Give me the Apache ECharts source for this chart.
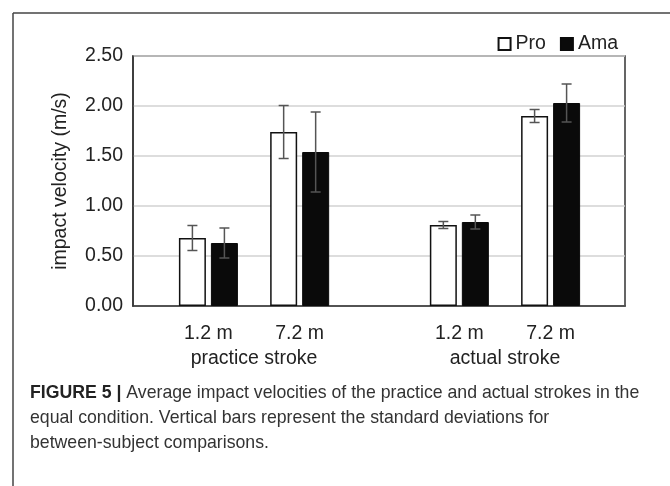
<!DOCTYPE html>
<html>
<head>
<meta charset="utf-8">
<script src="https://cdn.jsdelivr.net/npm/echarts@6/dist/echarts.min.js"></script>
<style>
    html, body { margin: 0; background: #fff; }
    #chart { width: 670px; height: 486px; }
</style>
</head>
<body>
<div id="chart"></div>
<script>
// 数据
const distances = ['1.2 m', '7.2 m', '1.2 m', '7.2 m'];
const strokes = ['practice stroke', 'actual stroke'];
const proMean = [0.68, 1.74, 0.81, 1.90];
const proSd = [0.125, 0.265, 0.035, 0.065];
const amaMean = [0.63, 1.54, 0.84, 2.03];
const amaSd = [0.15, 0.40, 0.07, 0.19];
const yTicks = ['0.00', '0.50', '1.00', '1.50', '2.00', '2.50'];

// 类目轴上的位置 (中间留空)
const slots = [0, 4, 11, 15];
const slotCount = 16;
const FONT = "'Liberation Sans', Arial, sans-serif";
const FS = 19.5;
const barW = 27;
const gapPx = 5;

let cats = new Array(slotCount).fill('');
slots.forEach((s, i) => { cats[s] = distances[i]; });
// 第二行: 击球类型 放在两组中间
strokes.forEach((name, i) => {
    cats[(slots[i * 2] + slots[i * 2 + 1]) / 2] = '\n' + name;
});

function toSlots(values) {
    let arr = new Array(slotCount).fill('-');
    slots.forEach((s, i) => { arr[s] = values[i]; });
    return arr;
}

function errData(mean, sd) {
    return slots.map((s, i) => [s, mean[i], sd[i]]);
}

/**
 * 误差线
 * @param {number} side -1 左边柱, 1 右边柱
 */
function renderErr(side) {
    return function (params, api) {
        const hi = api.coord([api.value(0), api.value(1) + api.value(2)]);
        const lo = api.coord([api.value(0), api.value(1) - api.value(2)]);
        const x = hi[0] + side * (barW + gapPx) / 2;
        const cap = 5;
        const style = { stroke: '#555', lineWidth: 1.5 };
        return {
            type: 'group',
            children: [
                { type: 'line', shape: { x1: x, y1: hi[1], x2: x, y2: lo[1] }, style: style },
                { type: 'line', shape: { x1: x - cap, y1: hi[1], x2: x + cap, y2: hi[1] }, style: style },
                { type: 'line', shape: { x1: x - cap, y1: lo[1], x2: x + cap, y2: lo[1] }, style: style }
            ]
        };
    };
}

var myChart = echarts.init(document.getElementById('chart'));
myChart.setOption({
    animation: false,
    textStyle: { fontFamily: FONT },
    legend: {
        data: ['Pro', 'Ama'],
        right: 47,
        top: 29,
        icon: 'rect',
        itemWidth: 12,
        itemHeight: 12,
        itemGap: 14,
        textStyle: { fontSize: FS, color: '#222', fontFamily: FONT }
    },
    grid: [
        // 外框和网格线
        { left: 133, right: 45, top: 56, bottom: 180, show: true, borderColor: '#333', borderWidth: 1.5 },
        // 柱子
        { left: 197, width: 365, top: 56, bottom: 180 }
    ],
    xAxis: [
        {
            gridIndex: 0,
            type: 'category',
            data: [''],
            axisLine: { lineStyle: { color: '#333', width: 1.5 } },
            axisTick: { show: false },
            axisLabel: { show: false }
        },
        {
            gridIndex: 1,
            type: 'category',
            data: cats,
            axisLine: { show: false },
            axisTick: { show: false },
            axisLabel: {
                interval: 0,
                margin: 15,
                fontSize: FS,
                lineHeight: 25,
                color: '#222',
                fontFamily: FONT
            }
        }
    ],
    yAxis: [
        {
            gridIndex: 0,
            type: 'value',
            min: 0,
            max: 2.5,
            interval: 0.5,
            name: 'impact velocity (m/s)',
            nameLocation: 'middle',
            nameGap: 62,
            nameTextStyle: { fontSize: FS, color: '#222', fontFamily: FONT },
            axisLine: { show: true, lineStyle: { color: '#333', width: 1.5 } },
            axisTick: { show: false },
            axisLabel: {
                fontSize: FS,
                color: '#222',
                margin: 10,
                fontFamily: FONT,
                formatter: (v) => yTicks[Math.round(v / 0.5)]
            },
            splitLine: { lineStyle: { color: '#d2d2d2', width: 1.5 } }
        },
        { gridIndex: 1, type: 'value', min: 0, max: 2.5, show: false }
    ],
    series: [
        {
            name: 'Pro',
            type: 'bar',
            xAxisIndex: 1,
            yAxisIndex: 1,
            clip: false,
            data: toSlots(proMean),
            barWidth: barW,
            barGap: (gapPx / barW * 100) + '%',
            itemStyle: { color: '#fff', borderColor: '#111', borderWidth: 1.5 }
        },
        {
            name: 'Ama',
            type: 'bar',
            xAxisIndex: 1,
            yAxisIndex: 1,
            clip: false,
            data: toSlots(amaMean),
            barWidth: barW,
            itemStyle: { color: '#0a0a0a', borderColor: '#0a0a0a', borderWidth: 1 }
        },
        {
            type: 'custom',
            xAxisIndex: 1,
            yAxisIndex: 1,
            z: 5,
            clip: false,
            silent: true,
            renderItem: renderErr(-1),
            data: errData(proMean, proSd)
        },
        {
            type: 'custom',
            xAxisIndex: 1,
            yAxisIndex: 1,
            z: 5,
            clip: false,
            silent: true,
            renderItem: renderErr(1),
            data: errData(amaMean, amaSd)
        }
    ],
    graphic: [
        // 图框
        { type: 'line', shape: { x1: 13, y1: 13, x2: 670, y2: 13 }, style: { stroke: '#444', lineWidth: 1.5 } },
        { type: 'line', shape: { x1: 13, y1: 13, x2: 13, y2: 486 }, style: { stroke: '#444', lineWidth: 1.5 } },
        {
            type: 'text',
            left: 30,
            top: 381,
            style: {
                text: '{b|FIGURE 5 |} Average impact velocities of the practice and actual strokes in the\nequal condition. Vertical bars represent the standard deviations for\nbetween-subject comparisons.',
                rich: {
                    b: { fontWeight: 'bold', fontSize: 17.7, fill: '#222', fontFamily: FONT }
                },
                fontSize: 17.7,
                lineHeight: 25,
                fill: '#333',
                fontFamily: FONT
            }
        }
    ]
});
</script>
</body>
</html>
